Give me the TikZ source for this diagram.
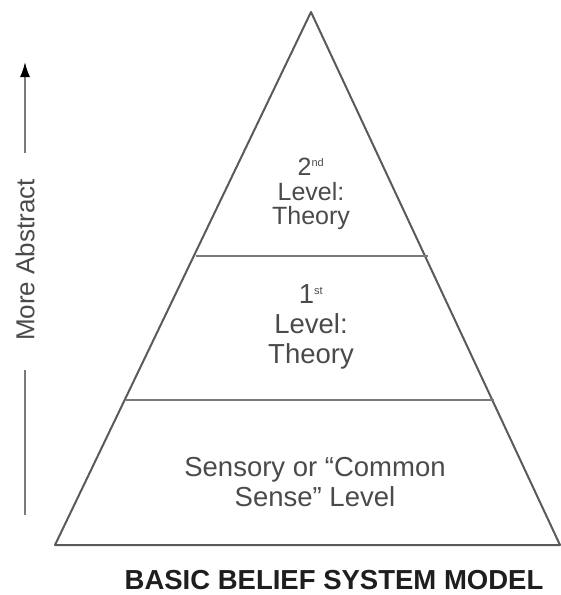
\documentclass[tikz,border=0pt]{standalone}
\usepackage{fontspec}
\setmainfont{Liberation Sans}
\usetikzlibrary{arrows.meta, positioning}
\definecolor{edgegrey}{HTML}{5A5A5A}
\definecolor{rulegrey}{HTML}{7A7A7A}
\definecolor{textgrey}{HTML}{4A4A4A}
\definecolor{titleink}{HTML}{1E1E1E}
\tikzset{
  levellabel/.style={align=center, text=textgrey, font=\fontsize{27.5}{30}\selectfont},
  toplabel/.style={levellabel, font=\fontsize{25}{24.5}\selectfont},
  title/.style={font=\bfseries\fontsize{27.5}{32}\selectfont, text=titleink},
  sideline/.style={line width=1.6pt, rulegrey},
  sidearrow/.style={sideline, -{Latex[length=15pt, width=10pt, fill=black, color=black]}},
}

\begin{document}
\begin{tikzpicture}[x=1pt, y=-1pt]
\useasboundingbox (0,0) rectangle (561,595);
% pyramid
\coordinate (apex) at (311,12);
\coordinate (baseL) at (55,545);
\coordinate (baseR) at (560,545);
\draw[edgegrey, line width=2pt, line join=round] (apex) -- (baseL) -- (baseR) -- cycle;
% level dividers
\coordinate (midL) at (196,256);
\coordinate (midR) at (428,256);
\coordinate (lowL) at (126,400);
\coordinate (lowR) at (494,400);
\draw[rulegrey, line width=2pt] (midL) -- (midR);
\draw[rulegrey, line width=2pt] (lowL) -- (lowR);
% level texts
\node[toplabel] (second) at (311,194) {2\textsuperscript{\fontsize{11}{11}\selectfont nd}\\Level:\\Theory};
\node[levellabel] (first) at (311,327) {1\textsuperscript{\fontsize{11}{11}\selectfont st}\\Level:\\Theory};
\node[levellabel] (sensory) at (315,482) {Sensory or ``Common\\Sense'' Level};
% caption
\node[title] (caption) at (334,580) {BASIC BELIEF SYSTEM MODEL};
% abstraction axis
\node[rotate=90, text=textgrey, font=\fontsize{26}{30}\selectfont] (abstract) at (25,260) {More Abstract};
\coordinate (axisbot) at (25,515);
\coordinate (axistop) at (25,62);
\draw[sideline] (axisbot) -- ([yshift=-110pt]abstract.center);
\draw[sidearrow] ([yshift=107pt]abstract.center) -- (axistop);
\end{tikzpicture}
\end{document}
